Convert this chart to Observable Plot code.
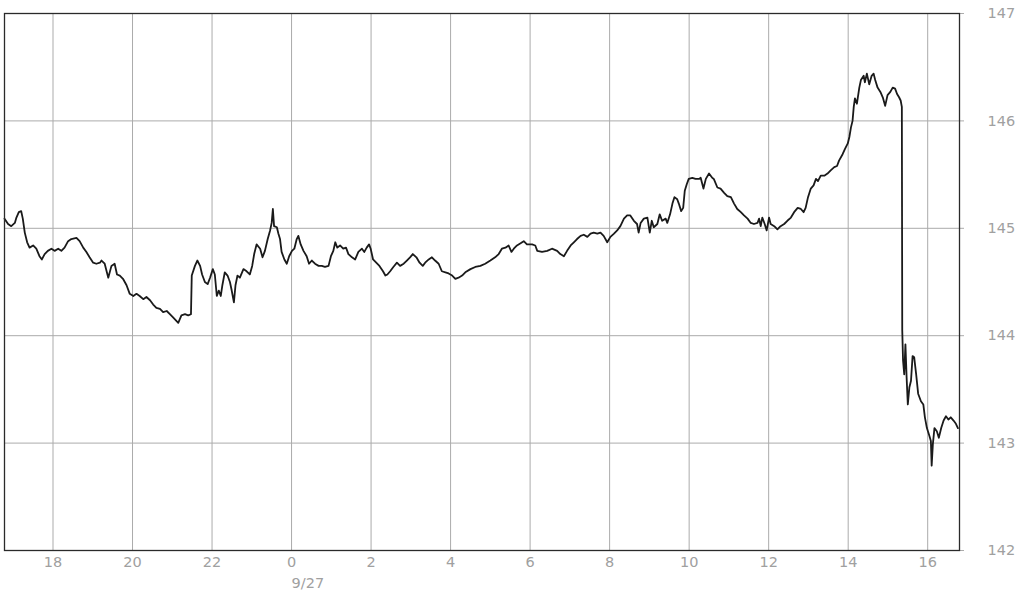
<!DOCTYPE html>
<html>
<head>
<meta charset="utf-8">
<script src="https://cdn.jsdelivr.net/npm/d3@7"></script>
<script src="https://cdn.jsdelivr.net/npm/@observablehq/plot@0.6"></script>
<style>
  html, body { margin: 0; padding: 0; background: #fff; }
</style>
</head>
<body>
<div id="chart"></div>
<script>
// Hours since midnight of 9/26 (values past 24 are on 9/27)
const hours = [
16.78,16.87,16.95,17.04,17.08,17.14,17.20,17.24,17.29,17.35,17.41,17.50,17.58,17.66,17.72,17.79,17.87,17.96,
18.04,18.13,18.21,18.29,18.38,18.46,18.59,18.67,18.76,18.84,18.92,19.01,19.09,19.18,19.22,19.30,19.39,19.47,
19.55,19.61,19.68,19.76,19.85,19.93,20.02,20.10,20.18,20.27,20.35,20.44,20.52,20.60,20.69,20.77,20.86,20.94,
21.02,21.15,21.23,21.32,21.40,21.47,21.49,21.57,21.63,21.70,21.75,21.82,21.89,21.95,22.02,22.07,22.12,22.17,
22.22,22.26,22.32,22.39,22.45,22.49,22.55,22.59,22.64,22.70,22.79,22.87,22.95,23.01,23.06,23.12,23.21,23.27,
23.33,23.40,23.46,23.50,23.53,23.56,23.63,23.67,23.71,23.75,23.82,23.88,23.94,24.01,24.07,24.13,24.17,24.23,
24.30,24.38,24.44,24.51,24.59,24.68,24.76,24.84,24.93,24.99,25.05,25.10,25.15,25.22,25.30,25.37,25.43,25.52,
25.60,25.68,25.77,25.83,25.89,25.95,25.99,26.05,26.13,26.21,26.30,26.36,26.41,26.48,26.56,26.65,26.73,26.82,
26.90,26.98,27.05,27.14,27.22,27.30,27.36,27.45,27.53,27.61,27.70,27.78,27.87,27.95,28.04,28.12,28.20,28.29,
28.37,28.50,28.62,28.75,28.87,29.00,29.12,29.21,29.29,29.38,29.46,29.53,29.59,29.67,29.76,29.84,29.92,30.05,
30.13,30.18,30.30,30.43,30.55,30.68,30.76,30.85,30.93,31.02,31.10,31.18,31.27,31.35,31.44,31.52,31.60,31.69,
31.77,31.85,31.94,32.02,32.11,32.19,32.27,32.36,32.44,32.52,32.61,32.69,32.73,32.78,32.86,32.95,33.01,33.06,
33.11,33.20,33.26,33.32,33.41,33.45,33.52,33.58,33.63,33.70,33.74,33.80,33.85,33.89,33.94,33.99,34.08,34.16,
34.25,34.29,34.36,34.42,34.50,34.58,34.62,34.71,34.79,34.88,34.96,35.05,35.13,35.21,35.30,35.38,35.47,35.55,
35.63,35.72,35.76,35.80,35.84,35.90,35.95,36.01,36.05,36.14,36.22,36.30,36.39,36.47,36.56,36.64,36.73,36.81,
36.88,36.93,36.99,37.06,37.13,37.19,37.24,37.31,37.40,37.48,37.56,37.65,37.72,37.77,37.86,37.92,37.99,38.03,
38.07,38.11,38.14,38.17,38.22,38.28,38.32,38.39,38.42,38.47,38.53,38.59,38.64,38.68,38.74,38.81,38.87,38.93,
38.99,39.06,39.12,39.18,39.23,39.28,39.32,39.35,39.36,39.38,39.41,39.44,39.47,39.50,39.54,39.58,39.62,39.66,
39.71,39.76,39.83,39.89,39.93,39.98,40.04,40.08,40.10,40.13,40.17,40.23,40.28,40.34,40.40,40.46,40.52,40.58,
40.65,40.71,40.76
];
const prices = [
145.09,145.04,145.02,145.05,145.10,145.15,145.16,145.09,144.96,144.87,144.82,144.84,144.81,144.74,144.71,144.76,144.79,144.81,
144.79,144.81,144.79,144.82,144.88,144.90,144.91,144.88,144.82,144.78,144.73,144.68,144.67,144.68,144.70,144.67,144.54,144.65,
144.67,144.57,144.56,144.53,144.47,144.39,144.37,144.39,144.37,144.34,144.36,144.33,144.29,144.26,144.25,144.22,144.23,144.20,
144.17,144.12,144.19,144.20,144.19,144.20,144.56,144.65,144.70,144.65,144.57,144.50,144.48,144.54,144.62,144.57,144.37,144.42,
144.37,144.47,144.59,144.56,144.50,144.43,144.31,144.47,144.56,144.54,144.62,144.60,144.57,144.65,144.76,144.85,144.81,144.73,
144.79,144.90,144.98,145.05,145.18,145.02,145.01,144.95,144.90,144.78,144.71,144.67,144.74,144.79,144.81,144.90,144.93,144.85,
144.79,144.74,144.67,144.70,144.67,144.65,144.65,144.64,144.65,144.74,144.79,144.87,144.82,144.84,144.81,144.82,144.76,144.73,
144.71,144.78,144.81,144.78,144.82,144.85,144.81,144.71,144.68,144.65,144.60,144.56,144.57,144.60,144.64,144.68,144.65,144.67,
144.70,144.73,144.76,144.73,144.68,144.65,144.68,144.71,144.73,144.70,144.67,144.60,144.59,144.58,144.56,144.53,144.54,144.56,
144.59,144.62,144.64,144.65,144.67,144.70,144.73,144.76,144.81,144.82,144.84,144.78,144.81,144.84,144.86,144.88,144.85,144.85,
144.84,144.79,144.78,144.79,144.81,144.79,144.76,144.74,144.79,144.84,144.87,144.90,144.93,144.94,144.92,144.95,144.96,144.95,
144.96,144.93,144.87,144.92,144.95,144.98,145.02,145.09,145.12,145.12,145.07,145.04,144.96,145.05,145.09,145.10,144.96,145.07,
145.01,145.04,145.13,145.07,145.09,145.05,145.13,145.23,145.29,145.27,145.23,145.16,145.19,145.35,145.41,145.46,145.47,145.46,
145.46,145.47,145.37,145.46,145.51,145.47,145.46,145.38,145.37,145.33,145.30,145.29,145.23,145.18,145.15,145.12,145.09,145.05,
145.04,145.05,145.09,145.02,145.10,145.04,144.98,145.10,145.04,145.02,144.99,145.02,145.04,145.07,145.10,145.15,145.19,145.18,
145.15,145.19,145.29,145.37,145.40,145.46,145.44,145.49,145.49,145.51,145.54,145.57,145.58,145.63,145.69,145.74,145.79,145.85,
145.94,146.00,146.13,146.21,146.16,146.31,146.38,146.42,146.36,146.44,146.34,146.42,146.44,146.38,146.31,146.27,146.22,146.14,
146.24,146.27,146.31,146.30,146.25,146.22,146.19,146.13,144.05,143.77,143.64,143.92,143.61,143.36,143.52,143.58,143.81,143.80,
143.64,143.46,143.39,143.36,143.24,143.14,143.07,143.02,142.79,142.99,143.14,143.11,143.05,143.14,143.21,143.25,143.22,143.24,
143.21,143.18,143.14
];
const xTicks = [18, 20, 22, 24, 26, 28, 30, 32, 34, 36, 38, 40];
const yTicks = [142, 143, 144, 145, 146, 147];
const dateLabel = "9/27";
const dateTick = [24];

const data = hours.map((h, i) => ({h, v: prices[i]}));

const gridColor = "#ababab";
const labelColor = "#a0a0a0";

const chart = Plot.plot({
  width: 1036,
  height: 590,
  marginLeft: 4,
  marginRight: 77,
  marginTop: 13,
  marginBottom: 40,
  style: {fontFamily: "'DejaVu Sans', Verdana, sans-serif", fontSize: "14.5px", background: "#fff", overflow: "visible"},
  x: {domain: [16.78, 40.8]},
  y: {domain: [142, 147]},
  marks: [
    Plot.gridX(xTicks, {stroke: gridColor, strokeOpacity: 1, strokeWidth: 1}),
    Plot.gridY(yTicks, {stroke: gridColor, strokeOpacity: 1, strokeWidth: 1}),
    Plot.axisY(yTicks, {anchor: "right", tickSize: 4, tickPadding: 24, stroke: gridColor, fill: labelColor, label: null, tickFormat: d => String(d)}),
    Plot.axisX(xTicks, {anchor: "bottom", tickSize: 0, tickPadding: 6, fill: labelColor, label: null, tickFormat: d => String(d % 24)}),
    Plot.axisX(dateTick, {anchor: "bottom", tickSize: 0, tickPadding: 27, fill: labelColor, label: null, textAnchor: "start", tickFormat: () => dateLabel}),
    Plot.line(data, {x: "h", y: "v", stroke: "#1a1a1a", strokeWidth: 1.8, strokeLinejoin: "round"}),
    Plot.frame({stroke: "#2a2a2a", strokeWidth: 1.3})
  ]
});
document.getElementById("chart").appendChild(chart);
</script>
</body>
</html>
